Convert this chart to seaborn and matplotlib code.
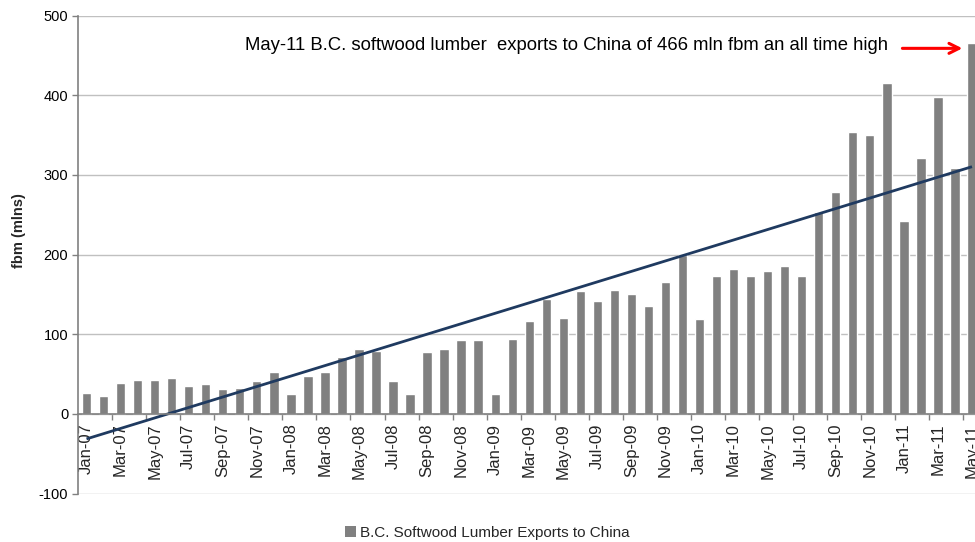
import numpy as np
import pandas as pd
import matplotlib
matplotlib.use("Agg")
import matplotlib.pyplot as plt
import seaborn as sns
from matplotlib.patches import Patch
from matplotlib.ticker import FixedLocator

months = ["Jan", "Feb", "Mar", "Apr", "May", "Jun", "Jul", "Aug", "Sep", "Oct", "Nov", "Dec"]
categories = [f"{m}-{y:02d}" for y in range(7, 12) for m in months][:53]

exports = [26, 23, 39, 43, 43, 45, 35, 37, 31, 33, 41, 52,
           25, 48, 52, 72, 81, 79, 41, 25, 78, 81, 93, 93,
           25, 94, 117, 144, 121, 154, 142, 156, 150, 135, 165, 199,
           119, 173, 182, 173, 180, 186, 173, 254, 279, 354, 350, 415,
           242, 321, 398, 309, 466]

series_name = "B.C. Softwood Lumber Exports to China"
annotation = "May-11 B.C. softwood lumber  exports to China of 466 mln fbm an all time high"
y_ticks = [-100, 0, 100, 200, 300, 400, 500]

df = pd.DataFrame({"month": categories, "fbm": exports})

sns.set_theme(style="white")
plt.rcParams["font.family"] = ["Liberation Sans", "DejaVu Sans"]

W, H = 975, 542
fig = plt.figure(figsize=(W / 100, H / 100), dpi=100)
ax_left, ax_right = 78 / W, 980.5 / W
ax_top, ax_bottom = 1 - 15.7 / H, 1 - 493.5 / H
ax = fig.add_axes([ax_left, ax_bottom, ax_right - ax_left, ax_top - ax_bottom])

bar_color = "#808080"
sns.barplot(data=df, x="month", y="fbm", color=bar_color, saturation=1,
            width=0.55, ax=ax, zorder=3, order=categories)

# Linear trend line (least squares fit, as in the original chart)
xi = np.arange(len(exports))
slope, intercept = np.polyfit(xi, exports, 1)
ax.plot([xi[0], xi[-1]], [intercept, intercept + slope * xi[-1]],
        color="#1F3A60", lw=2.0, zorder=4, solid_capstyle="butt")

ax.set_xlim(-0.5, len(categories) - 0.5)
ax.set_ylim(-100, 500)
ax.set_yticks(y_ticks)
ax.set_yticklabels([str(v) for v in y_ticks], fontsize=10.5, color="#000000")
ax.yaxis.grid(True, color="#C0C0C0", lw=1.0, zorder=0)
ax.xaxis.grid(False)

for s in ["top", "right"]:
    ax.spines[s].set_visible(False)
ax.spines["left"].set_color("#808080")
ax.spines["left"].set_linewidth(1.2)
ax.spines["bottom"].set_position(("data", 0))
ax.spines["bottom"].set_color("#808080")
ax.spines["bottom"].set_linewidth(1.2)
ax.spines["bottom"].set_zorder(5)

ax.tick_params(axis="y", which="major", length=4, width=1, color="#808080",
               direction="out", left=True, pad=3)

# x ticks: labels every other month, tick marks at category boundaries
ax.set_xticks(np.arange(0, len(categories), 2))
ax.set_xticklabels(categories[::2], rotation=90, fontsize=12, va="top", ha="center")
ax.xaxis.set_minor_locator(FixedLocator(np.arange(1.5, len(categories), 2)))
ax.tick_params(axis="x", which="major", length=0, pad=7)
ax.tick_params(axis="x", which="minor", length=4, width=1, color="#808080",
               direction="out", bottom=True)
ax.set_xlabel("")

ax.set_ylabel("fbm (mlns)", fontsize=10.5, fontweight="bold")
ax.yaxis.set_label_coords(-0.058, 0.55)

# Annotation
ax.text(47.05, 462, annotation, ha="right", va="center", fontsize=13.3, color="#000000")
ax.annotate("", xy=(51.6, 459), xytext=(47.75, 459),
            arrowprops=dict(arrowstyle="->,head_length=0.6,head_width=0.3",
                            color="#FF0000", lw=2.2), zorder=6)

# Legend
handle = Patch(facecolor=bar_color, edgecolor="none", label=series_name)
fig.legend(handles=[handle], loc="center", bbox_to_anchor=(0.5, 1 - 533 / H),
           frameon=False, fontsize=11, handlelength=0.7, handleheight=0.7,
           handletextpad=0.3)

fig.savefig("out.png", dpi=100)
